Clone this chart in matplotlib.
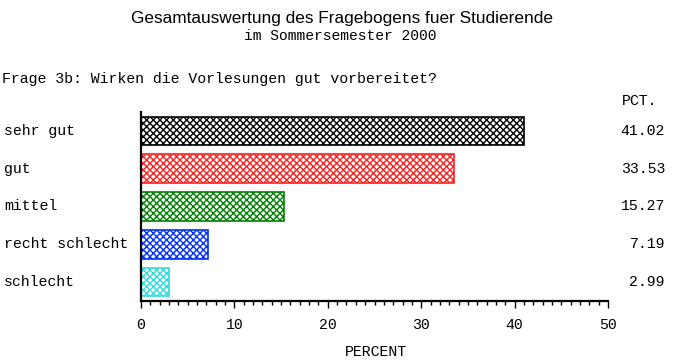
import matplotlib
matplotlib.use("Agg")
import matplotlib.pyplot as plt

categories = ["sehr gut", "gut", "mittel", "recht schlecht", "schlecht"]
percents = [41.02, 33.53, 15.27, 7.19, 2.99]
value_labels = ["41.02", "33.53", "15.27", "7.19", "2.99"]
colors = ["#000000", "#ff2020", "#008000", "#0030ff", "#30dddd"]
xticks = [0, 10, 20, 30, 40, 50]

plt.rcParams['hatch.linewidth'] = 1.0
mono = "Liberation Mono"
fs = 10.7

L, R, T, B = 141, 608, 112, 301
fig = plt.figure(figsize=(6.85, 3.64), dpi=100)
ax = fig.add_axes([L/685, 1-B/364, (R-L)/685, (B-T)/364])

ypos = list(range(len(categories)))
for y, v, c in zip(ypos, percents, colors):
    ax.barh(y, v, height=0.76, color="white", edgecolor=c, hatch="xxxxx", linewidth=1.2)

ax.set_xlim(0, 50)
ax.set_ylim(4.5, -0.5)
ax.set_xticks(xticks)
ax.set_xticks(range(0, 51), minor=True)
ax.tick_params(axis='x', which='major', length=5, width=1, direction='out', labelsize=fs, pad=7)
ax.tick_params(axis='x', which='minor', length=3, width=1, direction='out')
for lab in ax.get_xticklabels():
    lab.set_fontfamily(mono)
ax.set_yticks([])
for s in ["top", "right"]:
    ax.spines[s].set_visible(False)
ax.spines["left"].set_linewidth(1.6)
ax.spines["bottom"].set_linewidth(1.6)

W = R - L
for y, cat, vl in zip(ypos, categories, value_labels):
    ax.annotate(cat, xy=((4-L)/W, y), xycoords=('axes fraction', 'data'),
                ha='left', va='center', fontsize=fs, family=mono)
    ax.annotate(vl, xy=((665-L)/W, y), xycoords=('axes fraction', 'data'),
                ha='right', va='center', fontsize=fs, family=mono)

fig.text(657/685, 1-101/364, "PCT.", ha='right', va='center', fontsize=fs, family=mono)
fig.text(2/685, 1-79/364, "Frage 3b: Wirken die Vorlesungen gut vorbereitet?", ha='left', va='center', fontsize=fs, family=mono)
fig.text(342/685, 1-18/364, "Gesamtauswertung des Fragebogens fuer Studierende", ha='center', va='center', fontsize=12.4, family="Liberation Sans")
fig.text(340/685, 1-36/364, "im Sommersemester 2000", ha='center', va='center', fontsize=10.5, family=mono)
fig.text(376/685, 1-352/364, "PERCENT", ha='center', va='center', fontsize=fs, family=mono)

fig.savefig("out.png", dpi=100)
